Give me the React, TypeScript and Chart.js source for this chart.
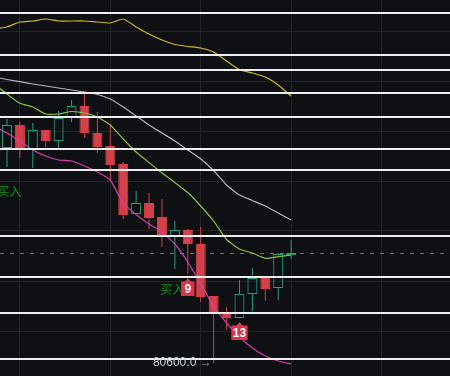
import { useEffect, useRef } from "react";
import { Chart, registerables } from "chart.js";

Chart.register(...registerables);

// ---- data ----
const opens = [82750, 82980, 82740, 82930, 82820, 83050, 83170, 82900, 82770, 82590, 82090, 82200, 82060, 81860, 81930, 81790, 81270, 81100, 81050, 81290, 81450, 81350, 81680];
const highs = [83040, 83010, 83000, 82930, 83120, 83230, 83290, 83110, 82990, 82610, 82320, 82300, 82240, 82020, 81940, 81960, 81270, 81160, 81430, 81550, 81460, 81700, 81830];
const lows = [82560, 82650, 82550, 82760, 82750, 83010, 82850, 82700, 82430, 82040, 82090, 81940, 81760, 81540, 81490, 81210, 80600, 80930, 81050, 81120, 81220, 81230, 81640];
const closes = [82980, 82740, 82930, 82820, 83050, 83170, 82900, 82760, 82580, 82080, 82200, 82050, 81860, 81930, 81790, 81260, 81100, 81050, 81290, 81450, 81340, 81690, 81700];

// moving averages, starting one bar before the first visible candle (index -1)
const maStart = -1;
const maYellow = [83940, 83960, 84010, 84020, 84040, 84020, 84020, 84020, 84010, 84000, 84040, 83961, 83890, 83830, 83785, 83765, 83750, 83710, 83620, 83533, 83500, 83460, 83380, 83270];
const maGray = [83460, 83435, 83413, 83390, 83370, 83350, 83330, 83310, 83285, 83240, 83160, 83070, 82980, 82900, 82820, 82730, 82640, 82525, 82380, 82280, 82225, 82170, 82100, 82030];
const maGreen = [83390, 83290, 83197, 83160, 83090, 83090, 83115, 83100, 83060, 82980, 82840, 82710, 82605, 82500, 82405, 82305, 82170, 82020, 81835, 81740, 81700, 81647, 81663, 81680];
const maPink = [82970, 82900, 82820, 82730, 82670, 82630, 82620, 82570, 82510, 82430, 82200, 82085, 81990, 81910, 81790, 81610, 81390, 81170, 81000, 80860, 80750, 80670, 80620, 80590];

// horizontal price levels (white lines)
const levelPrices = [84097, 83680, 83530, 83297, 83057, 82737, 82527, 81870, 81463, 81097, 80640];

// grid
const xGridIdx = [1, 8, 15, 22, 29];
const yGridPrices = [83920, 83420, 82920, 82420, 81920, 81420, 80920];

// signals
const signalIdx = [14, 18];
const signalText = ["9", "13"];
const buyText = "买入";
const buyX = [0.2, 12.8];
const buyY = [82320, 81340];

// axis range
const xMin = -0.54;
const xMax = 34.3;
const yMin = 80470;
const yMax = 84230;

const BG = "#0f1013";
const UP = "#22a07c";
const DOWN = "#d3404a";

const isUp = (i: number) => closes[i] >= opens[i];

export default function App() {
  const ref = useRef<HTMLCanvasElement | null>(null);

  useEffect(() => {
    const canvas = ref.current;
    if (!canvas) return;

    const idx = opens.map((_, i) => i);
    const bodies = idx.map((i) => ({ x: i, y: [opens[i], closes[i]] }));
    const upperWicks = idx.map((i) => ({ x: i, y: [Math.max(opens[i], closes[i]), highs[i]] }));
    const lowerWicks = idx.map((i) => ({ x: i, y: [lows[i], Math.min(opens[i], closes[i])] }));
    const toLine = (arr: number[]) => arr.map((v, k) => ({ x: maStart + k, y: v }));
    const colorOf = (c: any) => (isUp(c.dataIndex) ? UP : DOWN);

    const overlay = {
      id: "overlay",
      beforeDraw(chart: any) {
        const { ctx, width, height } = chart;
        ctx.save();
        ctx.fillStyle = BG;
        ctx.fillRect(0, 0, width, height);
        ctx.restore();
      },
      beforeDatasetsDraw(chart: any) {
        const { ctx, width } = chart;
        const ys = chart.scales.y;
        const y = Math.round(ys.getPixelForValue(closes[closes.length - 1])) + 0.5;
        ctx.save();
        ctx.strokeStyle = "#1f9c82";
        ctx.lineWidth = 1;
        ctx.setLineDash([4, 6]);
        ctx.beginPath();
        ctx.moveTo(0, y);
        ctx.lineTo(width, y);
        ctx.stroke();
        ctx.restore();
      },
      afterDatasetsDraw(chart: any) {
        const { ctx, width } = chart;
        const xs = chart.scales.x;
        const ys = chart.scales.y;
        ctx.save();
        // white level lines
        ctx.fillStyle = "#eeeeee";
        levelPrices.forEach((p) => {
          const y = Math.round(ys.getPixelForValue(p));
          ctx.fillRect(0, y - 1, width, 2);
        });

        // buy labels
        ctx.font = '12px "Noto Sans CJK SC"';
        ctx.fillStyle = "#12901a";
        ctx.textAlign = "center";
        ctx.textBaseline = "middle";
        buyX.forEach((bx, k) => {
          ctx.fillText(buyText, xs.getPixelForValue(bx), ys.getPixelForValue(buyY[k]));
        });

        // signal boxes
        ctx.font = 'bold 12px "Liberation Sans", Arial, sans-serif';
        signalIdx.forEach((si, k) => {
          const x = xs.getPixelForValue(si);
          const yl = ys.getPixelForValue(lows[si]);
          const tw = ctx.measureText(signalText[k]).width;
          const bw = Math.max(13.5, tw + 3);
          const top = yl + 7.5;
          const bh = 14.5;
          ctx.fillStyle = "#d8364a";
          ctx.fillRect(x - bw / 2, top, bw, bh);
          ctx.beginPath();
          ctx.moveTo(x - 3.5, top + 0.5);
          ctx.lineTo(x, top - 3.5);
          ctx.lineTo(x + 3.5, top + 0.5);
          ctx.closePath();
          ctx.fill();
          ctx.fillStyle = "#ffffff";
          ctx.textAlign = "center";
          ctx.textBaseline = "middle";
          ctx.fillText(signalText[k], x, top + bh / 2 + 0.5);
        });

        // lowest price label
        let li = 0;
        lows.forEach((v, i) => {
          if (v < lows[li]) li = i;
        });
        const lx = xs.getPixelForValue(li) - 2;
        const ly = ys.getPixelForValue(lows[li]);
        ctx.font = '12px "Liberation Sans", Arial, sans-serif';
        ctx.textBaseline = "middle";
        ctx.textAlign = "right";
        ctx.fillStyle = "#9aa0a8";
        ctx.fillText("→", lx, ly);
        const aw = ctx.measureText("→").width;
        const sw = ctx.measureText(" ").width;
        ctx.fillStyle = "#c9d1dc";
        ctx.fillText(lows[li].toFixed(1), lx - aw - sw, ly);
        ctx.restore();
      },
    };

    const chart = new Chart(canvas, {
      type: "line",
      data: {
        datasets: [
          { type: "line", data: toLine(maYellow), borderColor: "#cfbd17", borderWidth: 1.2, pointRadius: 0, tension: 0.15, order: 0 } as any,
          { type: "line", data: toLine(maGray), borderColor: "#b5b5b8", borderWidth: 1.2, pointRadius: 0, tension: 0.15, order: 0 } as any,
          { type: "line", data: toLine(maGreen), borderColor: "#8cc241", borderWidth: 1.2, pointRadius: 0, tension: 0.15, order: 0 } as any,
          { type: "line", data: toLine(maPink), borderColor: "#d23fae", borderWidth: 1.2, pointRadius: 0, tension: 0.15, order: 0 } as any,
          {
            type: "bar",
            data: bodies,
            barThickness: 10,
            grouped: false,
            backgroundColor: (c: any) => (isUp(c.dataIndex) ? "rgba(0,0,0,0)" : DOWN),
            borderColor: colorOf,
            borderWidth: 1,
            borderSkipped: false,
            inflateAmount: 0,
            order: 1,
          } as any,
          {
            type: "bar",
            data: upperWicks,
            barThickness: 1,
            grouped: false,
            backgroundColor: colorOf,
            borderWidth: 0,
            inflateAmount: 0,
            order: 2,
          } as any,
          {
            type: "bar",
            data: lowerWicks,
            barThickness: 1,
            grouped: false,
            backgroundColor: colorOf,
            borderWidth: 0,
            inflateAmount: 0,
            order: 2,
          } as any,
        ],
      },
      options: {
        responsive: false,
        animation: false,
        layout: { padding: 0 },
        plugins: { legend: { display: false }, tooltip: { enabled: false } },
        scales: {
          x: {
            type: "linear",
            min: xMin,
            max: xMax,
            offset: false,
            ticks: { display: false },
            grid: { color: "#202226", drawTicks: false, offset: false, lineWidth: 1 },
            border: { display: false },
            afterBuildTicks: (s: any) => {
              s.ticks = xGridIdx.map((v) => ({ value: v }));
            },
          },
          y: {
            type: "linear",
            min: yMin,
            max: yMax,
            ticks: { display: false },
            grid: { color: "#202226", drawTicks: false, lineWidth: 1 },
            border: { display: false },
            afterBuildTicks: (s: any) => {
              s.ticks = yGridPrices.map((v) => ({ value: v }));
            },
          },
        },
      } as any,
      plugins: [overlay],
    });

    return () => chart.destroy();
  }, []);

  return (
    <div style={{ position: "fixed", left: 0, top: 0, width: 450, height: 376, background: BG }}>
      <canvas ref={ref} width={450} height={376} style={{ display: "block" }} />
    </div>
  );
}
